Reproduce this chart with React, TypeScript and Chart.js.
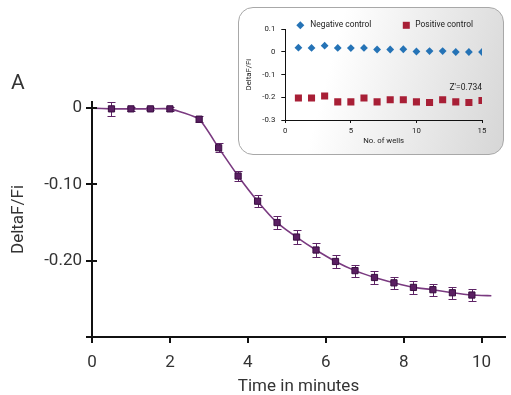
import React, { useEffect, useRef } from 'react';
import { Chart, registerables } from 'chart.js';

Chart.register(...registerables);

// ---------- Main chart data ----------
const timeMinutes = [0.5, 1, 1.5, 2, 2.75, 3.25, 3.75, 4.25, 4.75, 5.25, 5.75, 6.25, 6.75, 7.25, 7.75, 8.25, 8.75, 9.25, 9.75];
const deltaF = [-0.001, -0.001, -0.001, -0.001, -0.0145, -0.052, -0.089, -0.122, -0.15, -0.169, -0.186, -0.201, -0.213, -0.222, -0.229, -0.235, -0.238, -0.242, -0.245];
const deltaErr = [0.0095, 0.003, 0.002, 0.003, 0.004, 0.006, 0.007, 0.008, 0.008, 0.009, 0.009, 0.009, 0.008, 0.008, 0.008, 0.008, 0.008, 0.008, 0.008];
const fitTime = [0, 0.5, 1, 1.5, 2, 2.75, 3.25, 3.75, 4.25, 4.75, 5.25, 5.75, 6.25, 6.75, 7.25, 7.75, 8.25, 8.75, 9.25, 9.75, 10.25];
const fitValue = [0, -0.001, -0.001, -0.001, -0.001, -0.0145, -0.052, -0.089, -0.122, -0.15, -0.169, -0.186, -0.201, -0.213, -0.222, -0.229, -0.235, -0.238, -0.242, -0.245, -0.246];
const mainXTicks = [0, 2, 4, 6, 8, 10];
const mainYTicks = [-0.3, -0.2, -0.1, 0];

// ---------- Inset chart data ----------
const wells = [1, 2, 3, 4, 5, 6, 7, 8, 9, 10, 11, 12, 13, 14, 15];
const negativeControl = [0.019, 0.018, 0.028, 0.018, 0.017, 0.018, 0.011, 0.011, 0.012, 0.002, 0.004, 0.004, 0.0, 0.0, 0.0];
const positiveControl = [-0.203, -0.203, -0.194, -0.22, -0.22, -0.203, -0.22, -0.211, -0.211, -0.22, -0.223, -0.211, -0.22, -0.223, -0.214];
const insetXTicks = [0, 5, 10, 15];
const insetYTicks = [-0.3, -0.2, -0.1, 0, 0.1];
const zPrime = "Z'=0.734";
const zPrimeY = -0.16;

const FONT = 'Roboto';
const TEXT = '#333333';
const PURPLE_LINE = '#7a3a80';
const PURPLE_FILL = '#5a1f62';
const PURPLE_EDGE = '#3a0f42';
const BLUE = '#2573b6';
const RED = '#a81f36';

Chart.defaults.font.family = FONT;
Chart.defaults.color = TEXT;

const errorBarPlugin = {
  id: 'errorBars',
  beforeDatasetDraw(chart: any, args: any) {
    if (args.index !== 0) return;
    const { ctx, scales } = chart;
    const xs = scales.x, ys = scales.y;
    ctx.save();
    ctx.strokeStyle = '#5e2466';
    ctx.lineWidth = 1;
    timeMinutes.forEach((t, i) => {
      const x = Math.round(xs.getPixelForValue(t)) + 0.5;
      const y1 = Math.round(ys.getPixelForValue(deltaF[i] + deltaErr[i])) + 0.5;
      const y2 = Math.round(ys.getPixelForValue(deltaF[i] - deltaErr[i])) + 0.5;
      ctx.beginPath();
      ctx.moveTo(x, y1); ctx.lineTo(x, y2);
      ctx.moveTo(x - 4, y1); ctx.lineTo(x + 4, y1);
      ctx.moveTo(x - 4, y2); ctx.lineTo(x + 4, y2);
      ctx.stroke();
    });
    ctx.restore();
  },
};

const mainTickPlugin = {
  id: 'mainTicks',
  afterDraw(chart: any) {
    const { ctx, scales, chartArea } = chart;
    ctx.save();
    ctx.strokeStyle = '#111';
    ctx.lineWidth = 2;
    ctx.beginPath();
    mainYTicks.forEach((v) => {
      const y = Math.round(scales.y.getPixelForValue(v));
      ctx.moveTo(chartArea.left - 6, y);
      ctx.lineTo(chartArea.left + 5, y);
    });
    mainXTicks.forEach((v) => {
      const x = Math.round(scales.x.getPixelForValue(v));
      ctx.moveTo(x, chartArea.bottom);
      ctx.lineTo(x, chartArea.bottom + 6);
    });
    ctx.stroke();
    ctx.restore();
  },
};

const insetExtrasPlugin = {
  id: 'insetExtras',
  afterDraw(chart: any) {
    const { ctx, chartArea, scales } = chart;
    ctx.save();
    const ly = chartArea.top - 4;
    // negative control marker (diamond)
    const dx = chartArea.left + 15;
    ctx.fillStyle = BLUE;
    ctx.beginPath();
    ctx.moveTo(dx, ly - 4); ctx.lineTo(dx + 4, ly); ctx.lineTo(dx, ly + 4); ctx.lineTo(dx - 4, ly);
    ctx.closePath();
    ctx.fill();
    // positive control marker (square)
    const sx = chartArea.left + 121;
    ctx.fillStyle = RED;
    ctx.fillRect(sx - 3.5, ly - 3.5, 7, 7);
    ctx.fillStyle = '#222';
    ctx.font = `8.4px ${FONT}`;
    ctx.textBaseline = 'middle';
    ctx.textAlign = 'left';
    ctx.fillText(chart.data.datasets[0].label, dx + 10, ly);
    ctx.fillText(chart.data.datasets[1].label, sx + 9, ly);
    ctx.font = `8.5px ${FONT}`;
    ctx.textAlign = 'right';
    ctx.fillText(zPrime, chartArea.right, scales.y.getPixelForValue(zPrimeY));
    ctx.restore();
  },
};

export default function App() {
  const mainRef = useRef<HTMLCanvasElement>(null);
  const insetRef = useRef<HTMLCanvasElement>(null);

  useEffect(() => {
    const main = new Chart(mainRef.current!, {
      type: 'scatter',
      data: {
        datasets: [
          {
            label: 'DeltaF/Fi',
            data: timeMinutes.map((t, i) => ({ x: t, y: deltaF[i] })),
            showLine: false,
            pointStyle: 'rect',
            pointRadius: 4.4,
            backgroundColor: PURPLE_FILL,
            borderColor: PURPLE_EDGE,
            borderWidth: 1,
          },
          {
            label: 'fit',
            data: fitTime.map((t, i) => ({ x: t, y: fitValue[i] })),
            showLine: true,
            pointRadius: 0,
            borderColor: PURPLE_LINE,
            borderWidth: 1.6,
            tension: 0.15,
            fill: false,
          },
        ],
      },
      options: {
        animation: false,
        responsive: true,
        maintainAspectRatio: false,
        layout: { padding: { top: 102, right: 6, left: 0, bottom: 0 } },
        plugins: { legend: { display: false }, tooltip: { enabled: false } },
        scales: {
          x: {
            type: 'linear',
            min: 0,
            max: 10.6,
            afterBuildTicks: (s: any) => { s.ticks = mainXTicks.map((v) => ({ value: v })); },
            afterFit: (s: any) => { s.height = 58; s.paddingLeft = 0; s.paddingRight = 0; },
            grid: { display: false },
            border: { display: true, color: '#111', width: 2 },
            ticks: { font: { size: 17 }, color: TEXT, padding: 8, maxRotation: 0, callback: (v: any) => String(v) },
            title: { display: true, text: 'Time in minutes', font: { size: 17, lineHeight: 0.95 }, color: TEXT, padding: 0 },
          },
          y: {
            type: 'linear',
            min: -0.3,
            max: 0.008,
            afterBuildTicks: (s: any) => { s.ticks = mainYTicks.map((v) => ({ value: v })); },
            afterFit: (s: any) => { s.width = 92; s.paddingTop = 0; s.paddingBottom = 0; },
            grid: { display: false },
            border: { display: true, color: '#111', width: 2 },
            ticks: {
              font: { size: 17 },
              color: TEXT,
              padding: 2,
              callback: (v: any) => (v === 0 ? '0' : v <= -0.3 ? '' : Number(v).toFixed(2)),
            },
            title: { display: true, text: 'DeltaF/Fi', font: { size: 17, lineHeight: 1.2 }, color: TEXT, padding: { top: 9, bottom: 0 } },
          },
        },
      },
      plugins: [errorBarPlugin, mainTickPlugin],
    } as any);

    const inset = new Chart(insetRef.current!, {
      type: 'scatter',
      data: {
        datasets: [
          {
            label: 'Negative control',
            data: wells.map((w, i) => ({ x: w, y: negativeControl[i] })),
            pointStyle: 'rectRot',
            pointRadius: 3.9,
            backgroundColor: BLUE,
            borderColor: BLUE,
            borderWidth: 0,
          },
          {
            label: 'Positive control',
            data: wells.map((w, i) => ({ x: w, y: positiveControl[i] })),
            pointStyle: 'rect',
            pointRadius: 5,
            backgroundColor: RED,
            borderColor: RED,
            borderWidth: 0,
          },
        ],
      },
      options: {
        animation: false,
        responsive: true,
        maintainAspectRatio: false,
        layout: { padding: { top: 22.3, right: 22, left: 0, bottom: 0 } },
        plugins: { legend: { display: false }, tooltip: { enabled: false } },
        scales: {
          x: {
            type: 'linear',
            min: 0,
            max: 15,
            afterBuildTicks: (s: any) => { s.ticks = insetXTicks.map((v) => ({ value: v })); },
            afterFit: (s: any) => { s.height = 35; s.paddingLeft = 0; s.paddingRight = 0; },
            grid: { display: true, drawOnChartArea: false, drawTicks: true, tickLength: 3, color: '#111', lineWidth: 1 },
            border: { display: true, color: '#111', width: 1 },
            ticks: { font: { size: 7.8 }, color: '#222', padding: 3, maxRotation: 0 },
            title: { display: true, text: 'No. of wells', font: { size: 7.8, lineHeight: 1.2 }, color: '#222', padding: { top: 0, bottom: 8.8 } },
          },
          y: {
            type: 'linear',
            min: -0.3,
            max: 0.1,
            afterBuildTicks: (s: any) => { s.ticks = insetYTicks.map((v) => ({ value: v })); },
            afterFit: (s: any) => { s.width = 47.3; s.paddingTop = 0; s.paddingBottom = 0; },
            grid: { display: true, drawOnChartArea: false, drawTicks: true, tickLength: 4, color: '#111', lineWidth: 1 },
            border: { display: true, color: '#111', width: 1 },
            ticks: {
              font: { size: 7.8 },
              color: '#222',
              padding: 6,
              callback: (v: any) => (Math.abs(v) < 1e-9 ? '0' : String(Math.round(v * 10) / 10)),
            },
            title: { display: true, text: 'DeltaF/Fi', font: { size: 7.8, lineHeight: 1.2 }, color: '#222', padding: { top: 6.5, bottom: 0 } },
          },
        },
      },
      plugins: [insetExtrasPlugin],
    } as any);

    return () => {
      main.destroy();
      inset.destroy();
    };
  }, []);

  return (
    <div style={{ position: 'fixed', left: 0, top: 0, width: 511, height: 395, background: '#fff', overflow: 'hidden' }}>
      <div style={{ position: 'absolute', left: 0, top: 0, width: 511, height: 395 }}>
        <canvas ref={mainRef} />
      </div>
      <div
        style={{
          position: 'absolute',
          left: 238,
          top: 7,
          width: 266,
          height: 148,
          boxSizing: 'border-box',
          border: '1px solid #a8a8a8',
          borderRadius: 15,
          background: 'linear-gradient(105deg, #ffffff 35%, #d6d6d6 100%)',
        }}
      />
      <div style={{ position: 'absolute', left: 238, top: 7, width: 266, height: 148 }}>
        <canvas ref={insetRef} />
      </div>
      <div style={{ position: 'absolute', left: 11, top: 72, font: `21px ${FONT}`, lineHeight: 1, color: TEXT }}>A</div>
    </div>
  );
}
